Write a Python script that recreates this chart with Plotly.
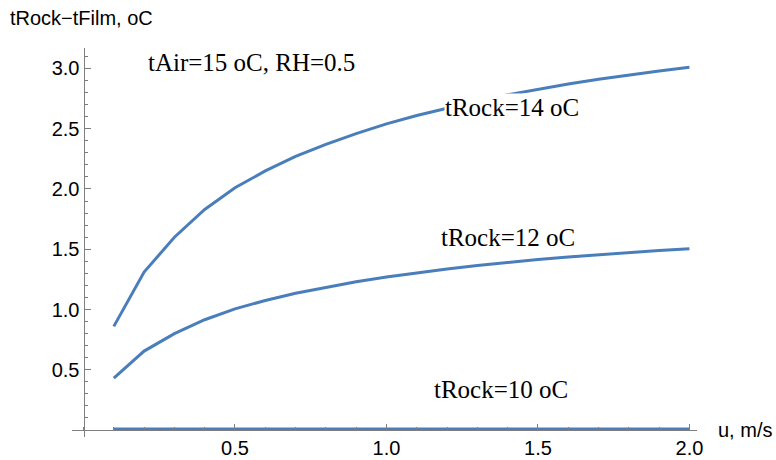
import plotly.graph_objects as go

# Wind speed, m/s
u = [0.1, 0.2, 0.3, 0.4, 0.5, 0.6, 0.7, 0.8, 0.9, 1.0,
     1.1, 1.2, 1.3, 1.4, 1.5, 1.6, 1.7, 1.8, 1.9, 2.0]

# tRock - tFilm, oC for each rock temperature
d_rock14 = [0.86, 1.31, 1.60, 1.83, 2.01, 2.15, 2.27, 2.37, 2.46, 2.54,
            2.61, 2.673, 2.73, 2.782, 2.829, 2.872, 2.911, 2.947, 2.98, 3.01]
d_rock12 = [0.43, 0.655, 0.80, 0.915, 1.005, 1.075, 1.135, 1.185, 1.23, 1.27,
            1.305, 1.337, 1.365, 1.391, 1.415, 1.436, 1.456, 1.474, 1.49, 1.505]
d_rock10 = [0.008, 0.008, 0.008, 0.008, 0.008, 0.008, 0.008, 0.008, 0.008, 0.008,
            0.008, 0.008, 0.008, 0.008, 0.008, 0.008, 0.008, 0.008, 0.008, 0.008]

curve_labels = ["tRock=14 oC", "tRock=12 oC", "tRock=10 oC"]
label_pos = [(1.414, 2.68), (1.40, 1.60), (1.378, 0.34)]
note_text = "tAir=15 oC, RH=0.5"
note_pos = (0.556, 3.05)

x_range = [-0.038, 2.025]
y_range = [-0.058, 3.17]

line_color = "#4a7ebb"
axis_color = "#7f7f7f"

fig = go.Figure()
for ys in (d_rock14, d_rock12, d_rock10):
    fig.add_trace(go.Scatter(x=u, y=ys, mode="lines",
                             line=dict(color=line_color, width=3),
                             showlegend=False, hoverinfo="skip"))

serif = dict(family="Liberation Serif", size=25, color="black")
for text, (lx, ly) in zip(curve_labels, label_pos):
    fig.add_annotation(x=lx, y=ly, text=text, showarrow=False, font=serif,
                       xanchor="center", yanchor="middle",
                       bgcolor="white", borderpad=0)
fig.add_annotation(x=note_pos[0], y=note_pos[1], text=note_text, showarrow=False,
                   font=serif, xanchor="center", yanchor="middle")

sans = dict(family="Liberation Sans", size=20, color="black")
fig.add_annotation(xref="paper", yref="paper", x=-0.1024, y=1.077,
                   text="tRock\u2212tFilm, oC", showarrow=False, font=sans,
                   xanchor="left", yanchor="middle")
fig.add_annotation(xref="paper", yref="paper", x=1.0304,
                   y=(0 - y_range[0]) / (y_range[1] - y_range[0]),
                   text="u, m/s", showarrow=False, font=sans,
                   xanchor="left", yanchor="middle")

fig.update_layout(
    width=776, height=460,
    margin=dict(l=72, r=79, t=48, b=23),
    paper_bgcolor="white", plot_bgcolor="white",
    xaxis=dict(range=x_range, anchor="free", automargin=False,
               position=(0 - y_range[0]) / (y_range[1] - y_range[0]),
               showgrid=False, zeroline=False, showline=True,
               linecolor=axis_color, linewidth=1,
               tickvals=[0.5, 1.0, 1.5, 2.0], ticktext=["0.5", "1.0", "1.5", "2.0"],
               ticks="inside", ticklen=6, tickcolor=axis_color,
               minor=dict(dtick=0.1, tick0=0, ticks="inside", ticklen=3,
                          tickcolor=axis_color, showgrid=False),
               tickfont=sans),
    yaxis=dict(range=y_range, anchor="free", automargin=False,
               position=(0 - x_range[0]) / (x_range[1] - x_range[0]),
               showgrid=False, zeroline=False, showline=True,
               linecolor=axis_color, linewidth=1,
               tickvals=[0.5, 1.0, 1.5, 2.0, 2.5, 3.0],
               ticktext=["0.5", "1.0", "1.5", "2.0", "2.5", "3.0"],
               ticks="inside", ticklen=6, tickcolor=axis_color,
               minor=dict(dtick=0.1, tick0=0, ticks="inside", ticklen=3,
                          tickcolor=axis_color, showgrid=False),
               tickfont=sans),
)

fig.write_html("out.html")
